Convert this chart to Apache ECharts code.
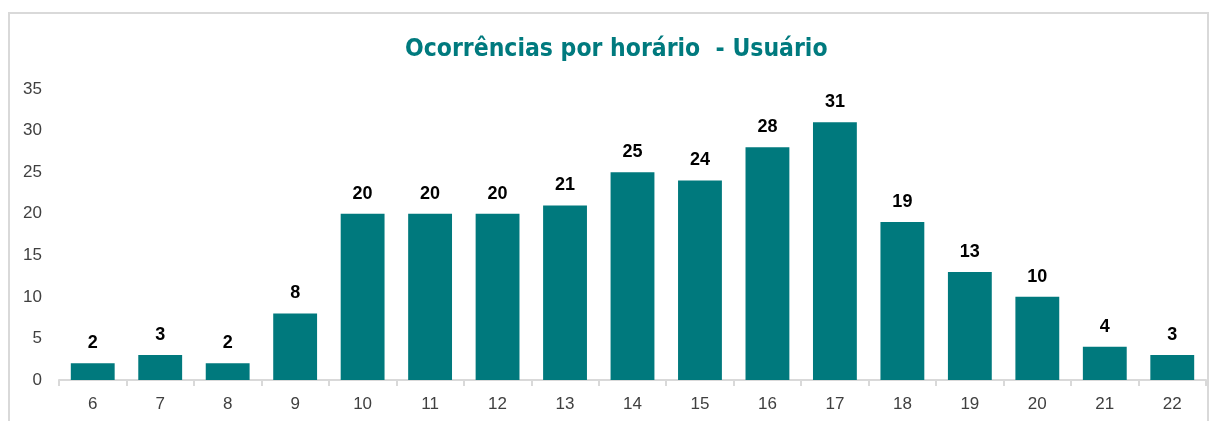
<!DOCTYPE html>
<html>
<head>
<meta charset="utf-8">
<script src="https://cdn.jsdelivr.net/npm/echarts@6/dist/echarts.min.js"></script>
<style>
  html, body { margin: 0; padding: 0; background: #fff; }
  #frame { position: absolute; left: 8px; top: 12px; width: 1201px; height: 420px; border: 2px solid #d9d9d9; box-sizing: border-box; }
  #chart { position: absolute; left: 0; top: 0; width: 1214px; height: 421px; }
</style>
</head>
<body>
<div id="frame"></div>
<div id="chart"></div>
<script>
var horas = ['6', '7', '8', '9', '10', '11', '12', '13', '14', '15', '16', '17', '18', '19', '20', '21', '22'];
var ocorrencias = [2, 3, 2, 8, 20, 20, 20, 21, 25, 24, 28, 31, 19, 13, 10, 4, 3];
var titulo = 'Ocorrências por horário  - Usuário';

var myChart = echarts.init(document.getElementById('chart'));
var option = {
    animation: false,
    title: {
        text: titulo,
        left: 400,
        top: 32,
        textStyle: {
            fontFamily: "'DejaVu Sans Condensed', 'Roboto Condensed', 'Liberation Sans Narrow', 'Roboto', sans-serif",
            fontWeight: 'bold',
            fontSize: 24.5,
            color: '#007A7E'
        }
    },
    grid: { left: 59, right: 8, top: 89, bottom: 41 },
    xAxis: {
        type: 'category',
        data: horas,
        axisLine: { lineStyle: { color: '#d9d9d9', width: 2 } },
        axisTick: { show: true, length: 6, lineStyle: { color: '#d9d9d9', width: 2 } },
        axisLabel: { color: '#404040', fontSize: 17, fontFamily: 'Liberation Sans', margin: 16 }
    },
    yAxis: {
        type: 'value',
        min: 0,
        max: 35,
        interval: 5,
        splitLine: { show: false },
        axisLine: { show: false },
        axisTick: { show: false },
        axisLabel: { color: '#404040', fontSize: 17, fontFamily: 'Liberation Sans', margin: 17 }
    },
    series: [
        {
            type: 'bar',
            data: ocorrencias,
            barCategoryGap: '35%',
            itemStyle: { color: '#00797D' },
            label: {
                show: true,
                position: 'top',
                distance: 11,
                color: '#000',
                fontWeight: 'bold',
                fontSize: 18,
                fontFamily: 'Liberation Sans'
            }
        }
    ]
};
myChart.setOption(option, true);
</script>
</body>
</html>
